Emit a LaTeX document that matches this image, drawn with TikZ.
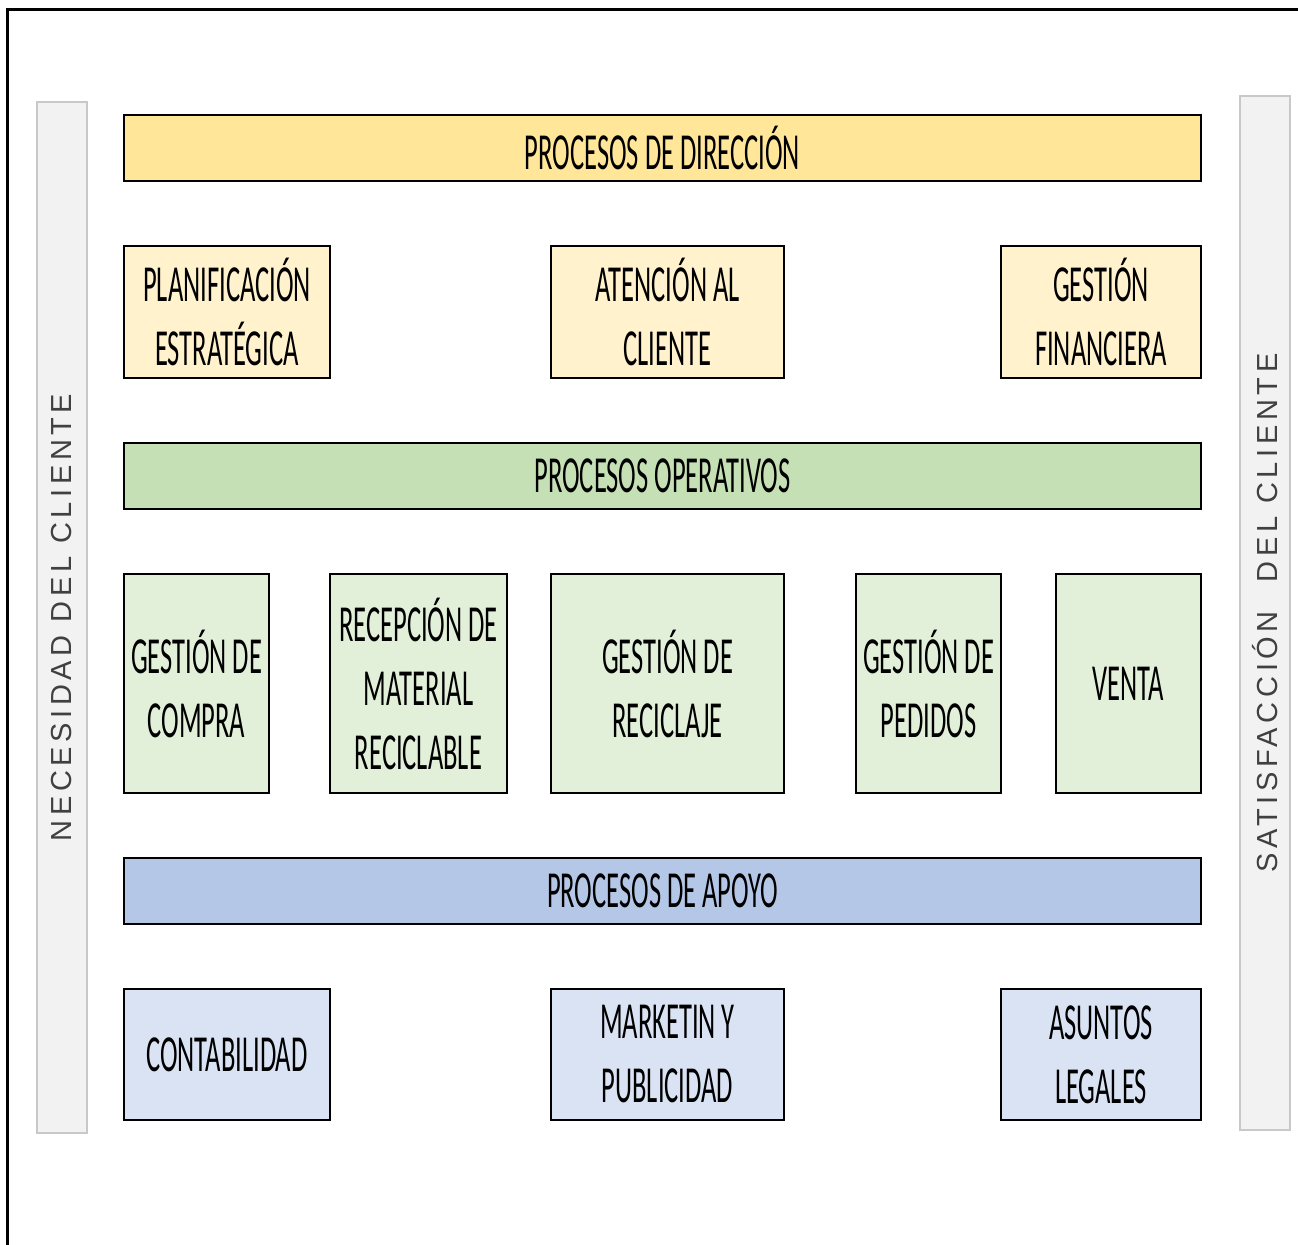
\documentclass[tikz,border=0pt]{standalone}
\usepackage{fontspec}
\newfontfamily\boxfont[FakeStretch=0.51]{Carlito}
\newfontfamily\sidefont[LetterSpace=16]{Liberation Sans}
\definecolor{dirband}{HTML}{FFE699}
\definecolor{dirbox}{HTML}{FFF2CC}
\definecolor{opband}{HTML}{C5E0B4}
\definecolor{opbox}{HTML}{E2F0D9}
\definecolor{apband}{HTML}{B4C7E7}
\definecolor{apbox}{HTML}{DAE3F3}
\definecolor{sidefill}{HTML}{F2F2F2}
\definecolor{sideline}{HTML}{C8C8C8}
\definecolor{sidetext}{HTML}{404040}
\tikzset{
  procbox/.style={draw=black, line width=1.2pt, inner sep=0pt, outer sep=0pt, align=center,
    font=\boxfont\fontsize{26}{32}\selectfont, text=black},
  sidebar/.style={draw=sideline, fill=sidefill, line width=1pt, inner sep=0pt, outer sep=0pt},
  sidelabel/.style={font=\sidefont\fontsize{14.5}{16}\selectfont, text=sidetext, rotate=90, inner sep=0pt}
}
\newcommand\mybox[7]{\node[procbox, fill=#6, minimum width={(#4-#2)*0.5pt}, minimum height={(#5-#3)*0.5pt}] (#1) at ({(#2+#4)/2},{(#3+#5)/2}) {#7};}
\newcommand\myside[6]{\node[sidebar, minimum width={(#4-#2)*0.5pt}, minimum height={(#5-#3)*0.5pt}] (#1) at ({(#2+#4)/2},{(#3+#5)/2}) {}; \node[sidelabel] (#1t) at (#1.center) {#6};}
\begin{document}
\begin{tikzpicture}[x=0.5pt,y=-0.5pt]
\useasboundingbox (0,0) rectangle (1298,1245);
% outer frame (left and top only)
\coordinate (fbl) at (7.5,1245);
\coordinate (ftl) at (7.5,9.5);
\coordinate (ftr) at (1298,9.5);
\draw[line width=1.6pt, line cap=rect] (fbl) -- (ftl) -- (ftr);
% side bars
\myside{nec}{37}{102}{87}{1133}{NECESIDAD DEL CLIENTE}
\myside{sat}{1240}{96}{1290}{1130}{SATISFACCIÓN\hspace{1em}DEL CLIENTE}
% bands
\mybox{dir}{124}{115}{1201}{181}{dirband}{PROCESOS DE DIRECCIÓN}
\mybox{ope}{124}{443}{1201}{509}{opband}{PROCESOS OPERATIVOS}
\mybox{apo}{124}{858}{1201}{924}{apband}{PROCESOS DE APOYO}
% direction row
\mybox{pla}{124}{246}{330}{378}{dirbox}{PLANIFICACIÓN\\ESTRATÉGICA}
\mybox{ate}{551}{246}{784}{378}{dirbox}{ATENCIÓN AL\\CLIENTE}
\mybox{fin}{1001}{246}{1201}{378}{dirbox}{GESTIÓN\\FINANCIERA}
% operative row
\mybox{com}{124}{574}{269}{793}{opbox}{GESTIÓN DE\\COMPRA}
\mybox{rec}{330}{574}{507}{793}{opbox}{RECEPCIÓN DE\\MATERIAL\\RECICLABLE}
\mybox{rcj}{551}{574}{784}{793}{opbox}{GESTIÓN DE\\RECICLAJE}
\mybox{ped}{856}{574}{1001}{793}{opbox}{GESTIÓN DE\\PEDIDOS}
\mybox{ven}{1056}{574}{1201}{793}{opbox}{VENTA}
% support row
\mybox{con}{124}{989}{330}{1120}{apbox}{CONTABILIDAD}
\mybox{mar}{551}{989}{784}{1120}{apbox}{MARKETIN Y\\PUBLICIDAD}
\mybox{asu}{1001}{989}{1201}{1120}{apbox}{ASUNTOS\\LEGALES}
\end{tikzpicture}
\end{document}
